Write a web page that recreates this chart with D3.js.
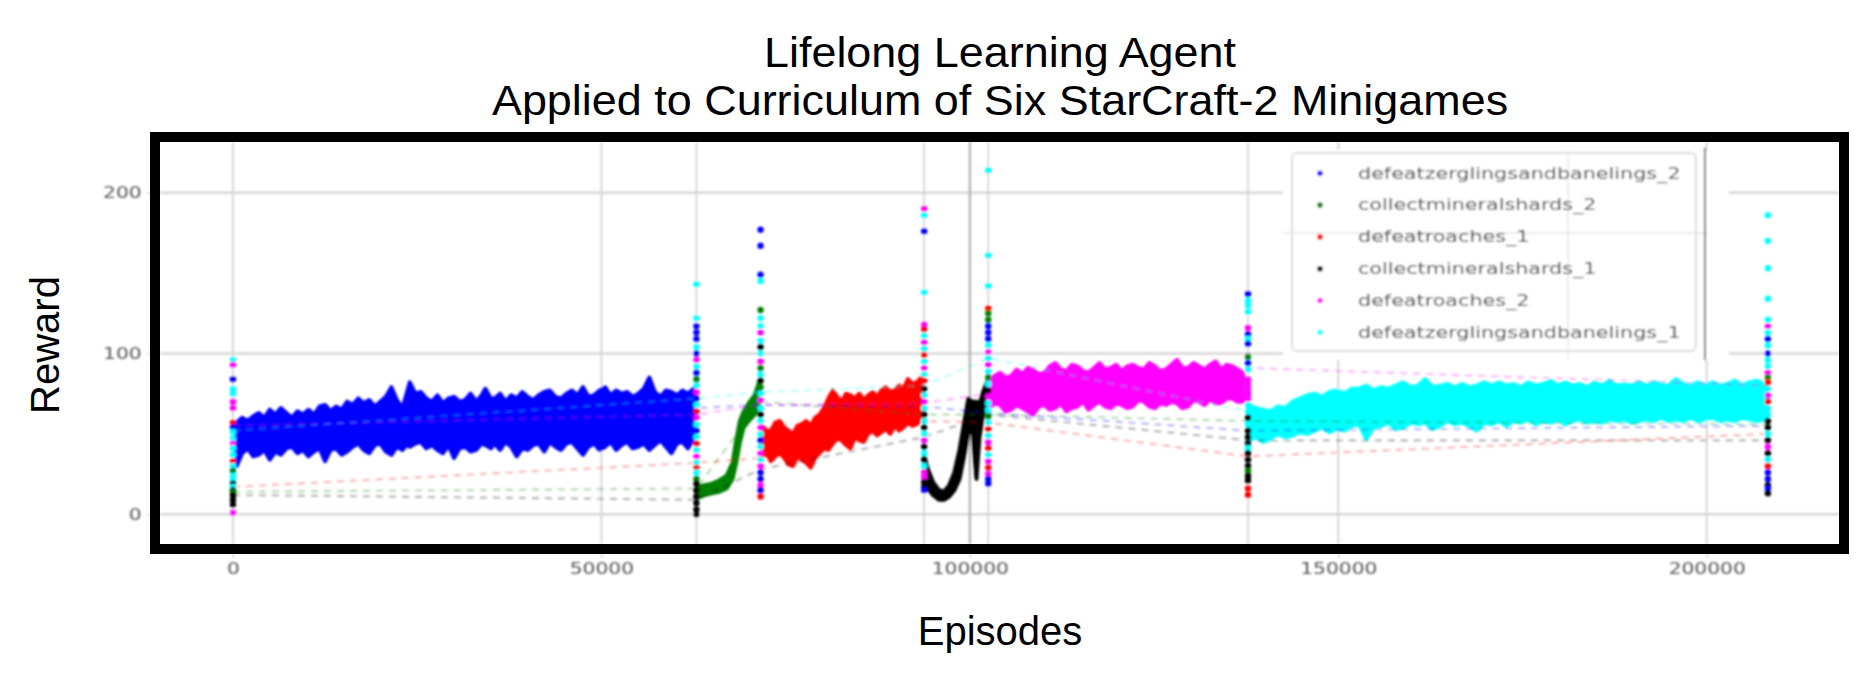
<!DOCTYPE html>
<html>
<head>
<meta charset="utf-8">
<script src="https://cdn.jsdelivr.net/npm/d3@7"></script>
<style>
body { margin: 0; background: #fff; }
</style>
</head>
<body>
<div id="chartWrapper"></div>
<script>
var taskNames = ["defeatzerglingsandbanelings_2", "collectmineralshards_2", "defeatroaches_1",
    "collectmineralshards_1", "defeatroaches_2", "defeatzerglingsandbanelings_1"];
var taskColors = ["#0000ff", "#008000", "#ff0000", "#000000", "#ff00ff", "#00ffff"];
var xTicks = [0, 50000, 100000, 150000, 200000];
var yTicks = [0, 100, 200];

// episodes where the curriculum switched task (evaluation of every task)
var evalEpisodes = [0, 62900, 71600, 93800, 102500, 137750, 208300];
var switchEpisodes = [62900, 93800, 102500, 137750];

// mean evaluation reward per task at each switch (dashed lines)
var evalMeans = [
    [50, 66, 68, 67, 63, 52, 55],
    [14, 16, 70, 62, 62, 58, 56],
    [17, 32, 35, 58, 57, 36, 50],
    [12, 9, 28, 48, 62, 46, 46],
    [55, 62, 68, 69, 75, 91, 80],
    [52, 72, 76, 80, 97, 64, 68]
];

// evaluation episodes at each switch: [task, reward]
var evalCol0 = [[5,96],[4,93],[0,84],[5,78],[5,75],[4,70],[4,66],[2,57],[0,54],[5,51],[5,47],[4,44],[5,41],[5,37],[2,33],[5,30],[1,27],[5,24],[5,21],[3,19],[5,17],[3,15],[1,14],[3,12],[3,9],[3,6],[4,1]];
var evalCol1 = [[5,143],[5,122],[0,117],[0,113],[0,109],[5,104],[0,100],[4,96],[5,92],[0,88],[1,84],[5,80],[4,76],[0,72],[5,68],[2,64],[4,60],[5,56],[0,52],[5,48],[2,44],[5,40],[4,36],[5,32],[2,29],[5,26],[1,22],[3,19],[3,15],[3,11],[3,7],[3,3],[3,0]];
var evalCol2 = [[0,177],[0,167],[0,149],[5,145],[1,127],[5,122],[5,117],[4,113],[5,108],[3,104],[5,100],[4,95],[1,91],[5,87],[3,83],[1,79],[5,75],[4,71],[5,66],[3,62],[5,58],[4,54],[5,50],[0,46],[5,42],[4,38],[5,34],[4,30],[0,26],[0,22],[4,18],[0,15],[2,11]];
var evalCol3 = [[4,190],[5,186],[0,176],[5,138],[4,118],[2,115],[5,111],[4,107],[5,103],[2,99],[5,95],[4,91],[5,87],[2,83],[3,78],[5,74],[4,70],[5,66],[3,62],[5,58],[3,54],[5,50],[4,46],[3,42],[5,38],[3,34],[5,30],[4,26],[4,23],[3,20],[3,17],[0,15]];
var evalCol4 = [[5,214],[5,161],[5,142],[2,128],[1,125],[1,121],[0,117],[0,113],[0,109],[5,105],[4,101],[5,97],[4,93],[5,89],[1,85],[5,81],[3,77],[4,73],[5,69],[5,65],[1,61],[5,57],[2,53],[5,49],[4,45],[2,41],[5,37],[4,33],[2,29],[4,25],[0,22],[0,19]];
var evalCol5 = [[0,137],[5,133],[5,130],[5,126],[4,116],[0,112],[5,109],[0,106],[1,98],[0,94],[5,90],[4,84],[4,81],[4,78],[4,75],[4,72],[5,68],[5,64],[3,60],[5,56],[3,52],[3,48],[3,44],[5,41],[3,38],[3,34],[3,30],[1,27],[3,24],[3,21],[2,16],[2,12]];
var evalCol6 = [[5,186],[5,170],[5,153],[5,134],[5,121],[4,117],[5,113],[0,109],[5,105],[0,100],[5,96],[5,92],[4,88],[1,85],[2,82],[5,78],[4,74],[2,70],[5,66],[5,62],[3,58],[3,54],[5,50],[3,46],[4,42],[3,38],[5,34],[2,30],[0,26],[0,22],[3,18],[0,16],[3,13]];
var evalCols = [evalCol0, evalCol1, evalCol2, evalCol3, evalCol4, evalCol5, evalCol6];

// training rewards of the current task: [episode, low, high]
var bandDzb2 = [[500,30,57],[1250,38,60],[2000,41,58],[2750,36,61],[3500,37,63],[4250,40,60],[5000,34,65],[5750,39,62],[6500,37,66],[7250,41,63],[8000,42,60],[8750,38,64],[9500,40,62],[10250,36,65],[11000,39,62],[11750,41,67],[12500,33,68],[13250,40,64],[14000,41,67],[14750,37,65],[15500,39,70],[16250,42,68],[17000,44,72],[17750,40,69],[18500,38,71],[19250,43,67],[20000,44,70],[20750,39,73],[21500,37,79],[22250,42,71],[23000,40,66],[23500,43,74],[24000,42,82],[24750,44,75],[25500,45,76],[26250,41,72],[27000,43,70],[27750,40,74],[28500,38,69],[29250,43,72],[30000,35,73],[30750,41,70],[31500,42,71],[32250,39,75],[33000,40,70],[33750,44,74],[34250,43,78],[35000,41,72],[35500,44,72],[36250,40,75],[37000,45,70],[37750,42,74],[38500,36,72],[39250,41,76],[40000,40,73],[40750,43,71],[41500,44,74],[42250,39,76],[43000,45,77],[43750,42,73],[44500,40,72],[45250,44,75],[46000,45,77],[46750,41,74],[47500,37,79],[48250,42,73],[49000,44,74],[49750,40,77],[50500,42,79],[51250,45,74],[52000,40,77],[52750,43,75],[53500,45,76],[54250,41,73],[55000,42,75],[55750,44,78],[56500,40,85],[57250,43,76],[58000,46,73],[58750,42,77],[59500,38,76],[60250,44,74],[61000,45,77],[61750,41,75],[62500,47,78]];
var bandCms2 = [[63000,10,17],[64000,12,18],[65000,13,19],[66000,14,21],[67000,16,24],[67800,22,32],[68300,32,46],[68800,45,58],[69300,54,64],[70000,58,69],[70800,62,74],[71400,68,82]];
var bandDr1 = [[71800,36,55],[72400,38,52],[73000,33,52],[73600,36,57],[74200,38,58],[74800,35,54],[75400,31,52],[76000,30,50],[76600,36,55],[77200,34,56],[77800,32,58],[78400,29,55],[79000,35,60],[79600,38,62],[80200,41,66],[80800,40,72],[81400,44,77],[82000,47,73],[82600,46,70],[83200,43,75],[83800,41,74],[84400,48,72],[85000,46,75],[85600,45,71],[86200,50,74],[86800,52,76],[87400,49,73],[88000,51,77],[88600,53,79],[89200,50,76],[89800,55,77],[90400,52,80],[91000,54,78],[91600,57,84],[92200,55,81],[92800,56,82],[93400,59,85]];
var bandCms1 = [[93800,20,36],[94300,16,28],[95000,12,20],[95800,9,15],[96500,9,14],[97200,11,18],[97900,15,26],[98600,22,40],[99200,36,56],[99800,50,72],[100300,55,70],[100900,22,70],[101300,48,68],[101800,62,76],[102300,70,82]];
var bandDr2 = [[102600,66,84],[103350,69,86],[104100,68,88],[104850,64,85],[105600,65,86],[106350,68,90],[107100,66,87],[107850,64,91],[108600,62,90],[109350,67,87],[110100,68,88],[110850,65,92],[111600,66,94],[112350,69,90],[113100,64,89],[113850,66,93],[114600,67,92],[115350,70,89],[116100,65,88],[116850,68,91],[117600,70,94],[118350,67,90],[119100,66,91],[119850,69,93],[120600,68,89],[121350,66,92],[122100,67,93],[122850,71,91],[123600,70,90],[124350,67,94],[125100,66,92],[125850,69,89],[126600,68,90],[127350,70,93],[128100,69,96],[128850,66,91],[129600,67,91],[130350,71,94],[131100,70,92],[131850,68,90],[132600,71,93],[133350,69,95],[134100,69,90],[134850,72,93],[135600,72,92],[136350,70,90],[137100,70,88]];
var bandDzb1 = [[137800,46,68],[138800,48,66],[139800,45,65],[140800,47,64],[141800,50,67],[142800,48,66],[143800,49,70],[144800,51,72],[145800,50,74],[146800,52,75],[147800,54,73],[148800,51,76],[149800,53,77],[150800,52,75],[151800,55,78],[152800,56,78],[153800,47,80],[154800,54,77],[155800,55,79],[156800,57,78],[157800,53,80],[158800,54,82],[159800,57,79],[160800,56,80],[161800,57,84],[162800,53,79],[163800,55,80],[164800,58,81],[165800,56,79],[166800,57,81],[167800,55,79],[168800,52,80],[169800,57,82],[170800,56,80],[171800,58,82],[172800,55,80],[173800,58,81],[174800,57,79],[175800,59,82],[176800,56,80],[177800,58,81],[178800,57,83],[179800,59,80],[180800,56,82],[181800,58,80],[182800,59,81],[183800,57,79],[184800,58,82],[185800,57,80],[186800,59,83],[187800,58,80],[188800,59,81],[189800,57,80],[190800,58,82],[191800,59,80],[192800,58,82],[193800,60,81],[194800,58,80],[195800,59,84],[196800,58,81],[197800,60,80],[198800,58,82],[199800,59,80],[200800,60,82],[201800,58,80],[202800,59,81],[203800,58,83],[204800,60,80],[205800,59,82],[206800,58,83],[207800,59,81],[208200,58,80]];
var bands = [bandDzb2, bandCms2, bandDr1, bandCms1, bandDr2, bandDzb1];

var width = 1867;
var height = 680;
var plot = { left: 160, right: 1839, top: 142, bottom: 544 };

var svg = d3.select("#chartWrapper").append("svg")
    .attr("width", width)
    .attr("height", height);

var x = d3.scaleLinear().domain([-9900, 217950]).range([plot.left, plot.right]);
var y = d3.scaleLinear().domain([-18.5, 231.5]).range([plot.bottom, plot.top]);

var defs = svg.append("defs");
defs.append("clipPath").attr("id", "plotClip")
    .append("rect")
    .attr("x", plot.left).attr("y", plot.top)
    .attr("width", plot.right - plot.left).attr("height", plot.bottom - plot.top);
// the original plot is a blurry upscaled bitmap
defs.append("filter").attr("id", "soft")
    .append("feGaussianBlur").attr("stdDeviation", 0.8);

var g = svg.append("g").attr("clip-path", "url(#plotClip)");
var inner = g.append("g").attr("filter", "url(#soft)");

// grid
inner.selectAll(".hgrid").data(yTicks).enter().append("line")
    .attr("x1", plot.left).attr("x2", plot.right)
    .attr("y1", function(d) { return y(d); }).attr("y2", function(d) { return y(d); })
    .attr("stroke", "#d6d6d6").attr("stroke-width", 2.5);
inner.selectAll(".vgrid").data(xTicks).enter().append("line")
    .attr("x1", function(d) { return x(d); }).attr("x2", function(d) { return x(d); })
    .attr("y1", plot.top).attr("y2", plot.bottom)
    .attr("stroke", function(d) { return d === 100000 ? "#a8a8a8" : "#d6d6d6"; })
    .attr("stroke-width", 2);
inner.selectAll(".switch").data(switchEpisodes).enter().append("line")
    .attr("x1", function(d) { return x(d); }).attr("x2", function(d) { return x(d); })
    .attr("y1", plot.top).attr("y2", plot.bottom)
    .attr("stroke", "#cfcfcf").attr("stroke-width", 1.5);

// training reward bands
var area = d3.area()
    .x(function(d) { return x(d[0]); })
    .y0(function(d) { return y(d[1]); })
    .y1(function(d) { return y(d[2]); });

inner.selectAll(".band").data(bands).enter().append("path")
    .attr("d", area)
    .attr("fill", function(d, i) { return taskColors[i]; })
    .attr("stroke", function(d, i) { return taskColors[i]; })
    .attr("stroke-width", 4)
    .attr("stroke-linejoin", "round");

// dashed evaluation means
var meanLine = d3.line()
    .x(function(d, i) { return x(evalEpisodes[i]); })
    .y(function(d) { return y(d); });

inner.selectAll(".mean").data(evalMeans).enter().append("path")
    .attr("d", meanLine)
    .attr("fill", "none")
    .attr("stroke", function(d, i) { return taskColors[i]; })
    .attr("stroke-width", 2.2)
    .attr("stroke-dasharray", "7,6")
    .attr("opacity", 0.28);

// evaluation dots
evalCols.forEach(function(col, c) {
    inner.selectAll(".evalDot" + c).data(col).enter().append("circle")
        .attr("cx", x(evalEpisodes[c]))
        .attr("cy", function(d) { return y(d[1]); })
        .attr("r", 3.2)
        .attr("fill", function(d) { return taskColors[d[0]]; });
});

// legend (sits on a pasted white patch in the original)
var legend = svg.append("g").attr("filter", "url(#soft)");
legend.append("rect")
    .attr("x", 1283).attr("y", 150).attr("width", 446).attr("height", 210)
    .attr("fill", "#fff");
legend.append("rect")
    .attr("x", 1292).attr("y", 153).attr("width", 404).attr("height", 198)
    .attr("rx", 5)
    .attr("fill", "#fff").attr("stroke", "#dcdcdc").attr("stroke-width", 2);
legend.append("line")
    .attr("x1", 1568).attr("x2", 1568).attr("y1", 150).attr("y2", 360)
    .attr("stroke", "#e6e6e6").attr("stroke-width", 1.5);
legend.append("line")
    .attr("x1", 1283).attr("x2", 1707).attr("y1", 233).attr("y2", 233)
    .attr("stroke", "#e4e4e4").attr("stroke-width", 1.5);
legend.append("line")
    .attr("x1", 1705).attr("x2", 1705).attr("y1", 148).attr("y2", 360)
    .attr("stroke", "#6a6a6a").attr("stroke-width", 2);

var rows = legend.selectAll(".row").data(taskNames).enter().append("g")
    .attr("transform", function(d, i) { return "translate(0," + (173.3 + i * 31.8) + ")"; });
rows.append("circle")
    .attr("cx", 1320).attr("cy", 0).attr("r", 2.8)
    .attr("fill", function(d, i) { return taskColors[i]; });
rows.append("text")
    .attr("transform", "translate(1358,0) scale(1.38,1)")
    .attr("dy", "0.35em")
    .style("font-family", "'DejaVu Sans', sans-serif")
    .style("font-size", "15px")
    .style("fill", "#3a3a3a")
    .text(function(d) { return d; });

// axes
var xAxis = svg.append("g")
    .attr("filter", "url(#soft)")
    .attr("transform", "translate(0," + (plot.bottom + 10) + ")")
    .call(d3.axisBottom(x).tickValues(xTicks).tickSize(4).tickFormat(d3.format("d")));
var yAxis = svg.append("g")
    .attr("filter", "url(#soft)")
    .attr("transform", "translate(" + (plot.left - 10) + ",0)")
    .call(d3.axisLeft(y).tickValues(yTicks).tickSize(3).tickFormat(d3.format("d")));

[xAxis, yAxis].forEach(function(ax) {
    ax.select(".domain").remove();
    ax.selectAll(".tick line").attr("stroke", "#bbbbbb");
    ax.selectAll(".tick text")
        .style("font-family", "'DejaVu Sans', sans-serif")
        .style("font-size", "15px")
        .style("fill", "#555");
});
xAxis.selectAll(".tick text")
    .attr("y", 0).attr("dy", "0.35em")
    .attr("transform", "translate(0,15) scale(1.35,1)");
yAxis.selectAll(".tick text")
    .attr("x", 0).attr("dy", "0.35em")
    .attr("transform", "translate(-8.3,0) scale(1.35,1)");

// thick frame
svg.append("rect")
    .attr("x", 155).attr("y", 137)
    .attr("width", 1689).attr("height", 412)
    .attr("fill", "none")
    .attr("stroke", "#000")
    .attr("stroke-width", 10);

// titles
var titleFont = "'Liberation Sans', Arial, sans-serif";
svg.append("text")
    .attr("transform", "translate(1000,52) scale(1.045,1)")
    .attr("text-anchor", "middle").attr("dy", "0.35em")
    .style("font-family", titleFont).style("font-size", "43px")
    .text("Lifelong Learning Agent");
svg.append("text")
    .attr("transform", "translate(1000,100) scale(1.045,1)")
    .attr("text-anchor", "middle").attr("dy", "0.35em")
    .style("font-family", titleFont).style("font-size", "43px")
    .text("Applied to Curriculum of Six StarCraft-2 Minigames");
svg.append("text")
    .attr("transform", "translate(45,345) rotate(-90)")
    .attr("text-anchor", "middle").attr("dy", "0.35em")
    .style("font-family", titleFont).style("font-size", "40px")
    .text("Reward");
svg.append("text")
    .attr("x", 1000).attr("y", 631)
    .attr("text-anchor", "middle").attr("dy", "0.35em")
    .style("font-family", titleFont).style("font-size", "40px")
    .text("Episodes");
</script>
</body>
</html>
